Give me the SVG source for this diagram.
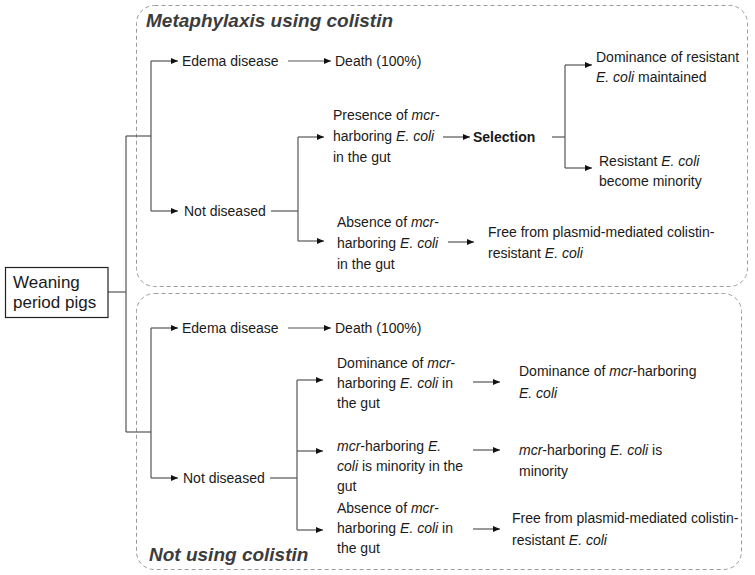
<svg xmlns="http://www.w3.org/2000/svg" width="755" height="575" viewBox="0 0 755 575">
<style>
text{font-family:"Liberation Sans",Arial,sans-serif;font-size:14px;fill:#1a1a1a}
.t{font-size:19px;font-weight:bold;font-style:italic;fill:#3c3c3c}
.b{font-weight:bold}
.i{font-style:italic}
.big{font-size:17px}
.frame{fill:none;stroke:#9a9a9a;stroke-width:1;stroke-dasharray:4 3}
.c line,.c polyline{fill:none;stroke:#555;stroke-width:1.2}
.a{marker-end:url(#ah)}
</style>
<defs>
<marker id="ah" markerUnits="userSpaceOnUse" markerWidth="8" markerHeight="7" refX="7" refY="3" orient="auto">
<path d="M0,0 L7,3 L0,6 z" fill="#111"/>
</marker>
</defs>
<rect class="frame" x="136.5" y="5.5" width="611" height="281" rx="18"/>
<rect class="frame" x="136.5" y="293.5" width="605" height="276" rx="18"/>
<text class="t" x="146" y="27">Metaphylaxis using colistin</text>
<text class="t" x="149" y="561">Not using colistin</text>

<g class="c" id="connectors">
<line x1="108" y1="292" x2="126" y2="292"/>
<line x1="126" y1="136" x2="126" y2="432"/>
<polyline points="126,136 151,136"/>
<line x1="151" y1="61" x2="151" y2="211"/>
<line class="a" x1="151" y1="61" x2="178" y2="61"/>
<line class="a" x1="151" y1="211" x2="178" y2="211"/>
<line class="a" x1="288" y1="61" x2="331" y2="61"/>
<line x1="271" y1="211" x2="298" y2="211"/>
<line x1="298" y1="137" x2="298" y2="241"/>
<line class="a" x1="298" y1="137" x2="324" y2="137"/>
<line class="a" x1="298" y1="241" x2="324" y2="241"/>
<line class="a" x1="443" y1="137" x2="470" y2="137"/>
<line x1="552" y1="137" x2="565" y2="137"/>
<line x1="565" y1="65" x2="565" y2="168"/>
<line class="a" x1="565" y1="65" x2="592" y2="65"/>
<line class="a" x1="565" y1="168" x2="592" y2="168"/>
<line class="a" x1="448" y1="242" x2="474" y2="242"/>

<line x1="126" y1="432" x2="151" y2="432"/>
<line x1="151" y1="328" x2="151" y2="478"/>
<line class="a" x1="151" y1="328" x2="178" y2="328"/>
<line class="a" x1="151" y1="478" x2="178" y2="478"/>
<line class="a" x1="288" y1="328" x2="331" y2="328"/>
<line x1="270" y1="478" x2="297" y2="478"/>
<line x1="297" y1="380" x2="297" y2="530"/>
<line class="a" x1="297" y1="380" x2="323" y2="380"/>
<line class="a" x1="297" y1="451" x2="323" y2="451"/>
<line class="a" x1="297" y1="530" x2="323" y2="530"/>
<line class="a" x1="473" y1="382" x2="500" y2="382"/>
<line class="a" x1="473" y1="450" x2="500" y2="450"/>
<line class="a" x1="473" y1="529" x2="500" y2="529"/>
</g>

<g id="weaning">
<rect x="5.5" y="267.5" width="102.5" height="50" fill="#fff" stroke="#222" stroke-width="1.2"/>
<text class="big" x="13" y="288">Weaning</text>
<text class="big" x="13" y="308">period pigs</text>
</g>

<g id="top-edema"><text x="182" y="66">Edema disease</text></g>
<g id="top-death"><text x="335" y="66">Death (100%)</text></g>
<g id="top-notdiseased"><text x="184" y="216">Not diseased</text></g>
<g id="top-presence">
<text x="333" y="120">Presence of <tspan class="i">mcr</tspan>-</text>
<text x="333" y="141">harboring <tspan class="i">E. coli</tspan></text>
<text x="333" y="162">in the gut</text>
</g>
<g id="top-selection"><text class="b" x="473" y="142">Selection</text></g>
<g id="top-dominance">
<text x="596" y="62">Dominance of resistant</text>
<text x="596" y="82"><tspan class="i">E. coli</tspan> maintained</text>
</g>
<g id="top-minority">
<text x="599" y="166">Resistant <tspan class="i">E. coli</tspan></text>
<text x="599" y="186">become minority</text>
</g>
<g id="top-absence">
<text x="337" y="227">Absence of <tspan class="i">mcr</tspan>-</text>
<text x="337" y="248">harboring <tspan class="i">E. coli</tspan></text>
<text x="337" y="269">in the gut</text>
</g>
<g id="top-free">
<text x="488" y="237">Free from plasmid-mediated colistin-</text>
<text x="488" y="258">resistant <tspan class="i">E. coli</tspan></text>
</g>

<g id="bot-edema"><text x="182" y="333">Edema disease</text></g>
<g id="bot-death"><text x="335" y="333">Death (100%)</text></g>
<g id="bot-notdiseased"><text x="183" y="483">Not diseased</text></g>
<g id="bot-dominance">
<text x="337" y="368">Dominance of <tspan class="i">mcr</tspan>-</text>
<text x="337" y="388">harboring <tspan class="i">E. coli</tspan> in</text>
<text x="337" y="408">the gut</text>
</g>
<g id="bot-minority">
<text x="337" y="451"><tspan class="i">mcr</tspan>-harboring <tspan class="i">E.</tspan></text>
<text x="337" y="471"><tspan class="i">coli</tspan> is minority in the</text>
<text x="337" y="491">gut</text>
</g>
<g id="bot-absence">
<text x="337" y="513">Absence of <tspan class="i">mcr</tspan>-</text>
<text x="337" y="533">harboring <tspan class="i">E. coli</tspan> in</text>
<text x="337" y="553">the gut</text>
</g>
<g id="bot-res-dominance">
<text x="519" y="376">Dominance of <tspan class="i">mcr</tspan>-harboring</text>
<text x="519" y="398"><tspan class="i">E. coli</tspan></text>
</g>
<g id="bot-res-minority">
<text x="519" y="455"><tspan class="i">mcr</tspan>-harboring <tspan class="i">E. coli</tspan> is</text>
<text x="519" y="476">minority</text>
</g>
<g id="bot-res-free">
<text x="512" y="523">Free from plasmid-mediated colistin-</text>
<text x="512" y="545">resistant <tspan class="i">E. coli</tspan></text>
</g>
</svg>
